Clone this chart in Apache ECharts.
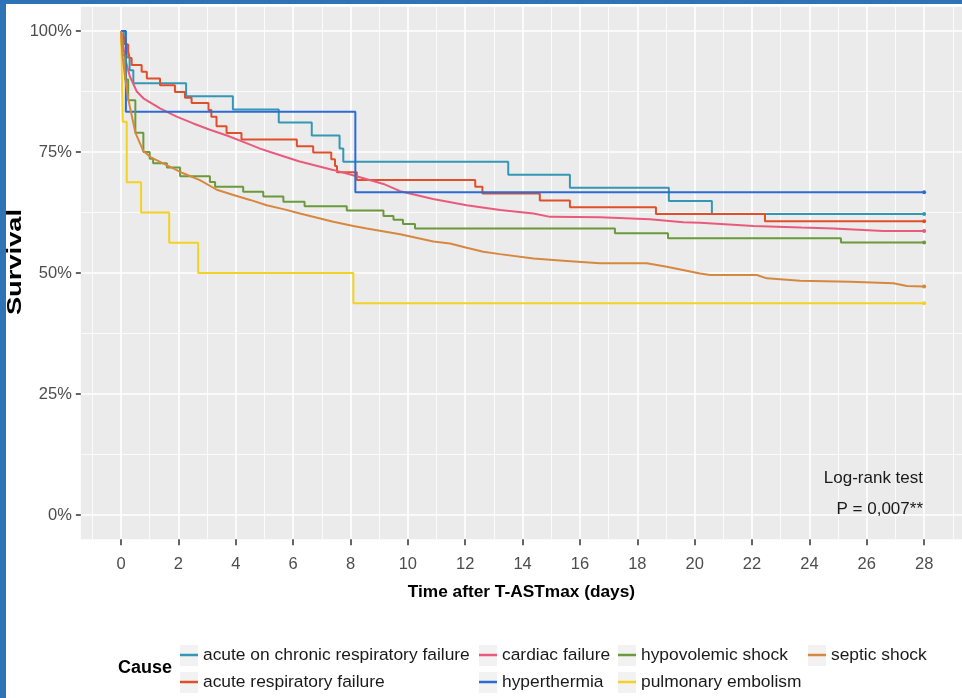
<!DOCTYPE html>
<html>
<head>
<meta charset="utf-8">
<script src="https://cdn.jsdelivr.net/npm/echarts@6/dist/echarts.min.js"></script>
<style>
html,body{margin:0;padding:0;background:#fff;}
#chart{width:962px;height:698px;}
</style>
</head>
<body>
<div id="chart"></div>
<script>
// ---- data (days, survival fraction) ----
const acuteOnChronic = [[0,1],[0.1,0.973],[0.2,0.946],[0.3,0.919],[0.43,0.892],[2.27,0.865],[3.9,0.838],[5.5,0.811],[6.65,0.784],[7.62,0.757],[7.75,0.730],[13.5,0.703],[15.65,0.676],[19.1,0.649],[20.6,0.622],[28,0.622]];
const acuteResp = [[0,1],[0.05,0.986],[0.15,0.972],[0.25,0.958],[0.3,0.944],[0.37,0.930],[0.72,0.916],[0.9,0.902],[1.36,0.888],[1.88,0.874],[2.23,0.862],[2.46,0.851],[3.05,0.837],[3.15,0.823],[3.33,0.803],[3.68,0.789],[4.2,0.776],[6.13,0.762],[6.7,0.749],[7.33,0.735],[7.46,0.721],[7.53,0.708],[8.22,0.692],[12.35,0.678],[12.6,0.664],[14.6,0.650],[15.65,0.636],[18.65,0.622],[22.45,0.607],[28,0.607]];
const cardiac = [[0,1],[0.1,0.96],[0.2,0.93],[0.31,0.906],[0.55,0.875],[0.78,0.861],[1.36,0.840],[1.94,0.823],[2.52,0.809],[3.1,0.796],[3.69,0.784],[4.26,0.771],[4.85,0.757],[5.2,0.750],[6.2,0.731],[7.39,0.713],[8.09,0.702],[9.15,0.684],[9.73,0.669],[10.88,0.653],[12.05,0.640],[13.22,0.630],[14.38,0.623],[14.96,0.616],[16.7,0.615],[18.44,0.611],[19.6,0.605],[20.19,0.604],[22.05,0.597],[23.71,0.594],[24.84,0.592],[26.58,0.587],[28,0.587]];
const hyperthermia = [[0,1],[0.17,0.833],[8.17,0.667],[28,0.667]];
const hypovolemic = [[0,1],[0.05,0.95],[0.15,0.9],[0.25,0.857],[0.5,0.79],[0.78,0.75],[1.0,0.736],[1.12,0.727],[1.6,0.718],[2.06,0.70],[3.1,0.688],[3.28,0.678],[4.26,0.668],[4.96,0.658],[5.66,0.647],[6.4,0.638],[7.87,0.629],[9.15,0.618],[9.5,0.61],[9.83,0.601],[10.25,0.592],[17.22,0.582],[19.07,0.572],[25.1,0.563],[28,0.563]];
const pulmonary = [[0,1],[0.02,0.9375],[0.04,0.875],[0.06,0.8125],[0.2,0.6875],[0.7,0.625],[1.68,0.5625],[2.69,0.5],[8.1,0.4375],[28,0.4375]];
const septic = [[0,1],[0.05,0.95],[0.15,0.9],[0.25,0.86],[0.5,0.79],[0.78,0.752],[1.01,0.740],[1.59,0.723],[2.17,0.706],[2.75,0.692],[3.34,0.672],[3.92,0.661],[4.5,0.651],[5.08,0.640],[5.66,0.632],[6.24,0.623],[7.4,0.606],[8.1,0.597],[8.57,0.592],[9.73,0.580],[10.89,0.565],[11.47,0.561],[12.05,0.552],[12.63,0.544],[13.21,0.539],[14.38,0.530],[15.54,0.525],[16.7,0.520],[18.33,0.520],[19.03,0.513],[20.19,0.499],[20.54,0.496],[22.17,0.496],[22.51,0.489],[23.67,0.484],[25.42,0.482],[26.93,0.479],[27.4,0.473],[28,0.472]];

const xTicks = [0,2,4,6,8,10,12,14,16,18,20,22,24,26,28];
const xMinor = [-1,1,3,5,7,9,11,13,15,17,19,21,23,25,27,29];
const yTicks = [0,0.25,0.5,0.75,1];
const yMinor = [0.125,0.375,0.625,0.875];

const causes = [
  {name:'acute on chronic respiratory failure', data:acuteOnChronic, color:'#3597B6', step:true},
  {name:'acute respiratory failure', data:acuteResp, color:'#E04F2B', step:true},
  {name:'cardiac failure', data:cardiac, color:'#EA5A7C', step:false},
  {name:'hyperthermia', data:hyperthermia, color:'#2B6BD2', step:true},
  {name:'hypovolemic shock', data:hypovolemic, color:'#6A9A3C', step:true},
  {name:'pulmonary embolism', data:pulmonary, color:'#F4D223', step:true},
  {name:'septic shock', data:septic, color:'#D7883F', step:false}
];

const FONT = "'Liberation Sans', Arial, sans-serif";

const chart = echarts.init(document.getElementById('chart'), null, {renderer:'canvas'});

const series = causes.map(c => ({
  name: c.name,
  type: 'line',
  xAxisIndex: 0, yAxisIndex: 0,
  step: c.step ? 'end' : false,
  symbol: 'none',
  showSymbol: true,
  animation: false,
  lineStyle: {color: c.color, width: 2},
  itemStyle: {color: c.color},
  data: c.data.map((p, i) => i === c.data.length - 1
    ? {value: p, symbol: 'circle', symbolSize: 4}
    : {value: p})
}));

const legendBase = {
  orient: 'vertical', padding: 0, itemWidth: 18, itemHeight: 2.5, itemGap: 7,
  icon: 'rect', selectedMode: false, top: 645,
  textStyle: {fontFamily: FONT, fontSize: 17.4, color: '#1a1a1a', lineHeight: 20}
};

const keyBoxes = [];
[180, 479, 618, 808].forEach((x, ci) => {
  [645, 672].forEach((y, ri) => {
    if (ci === 3 && ri === 1) return;
    keyBoxes.push({type: 'rect', left: x, top: y, shape: {width: 18, height: 21}, style: {fill: '#F2F2F2'}, z: -1, silent: true});
  });
});

chart.setOption({
  backgroundColor: '#ffffff',
  animation: false,
  grid: {left: 80.85, right: 0, top: 6.8, bottom: 158.8, show: true, backgroundColor: '#EBEBEB', borderWidth: 0, containLabel: false, outerBoundsMode: 'none'},
  xAxis: [{
    type: 'value', min: -1.4, max: 29.32,
    name: 'Time after T-ASTmax (days)', nameLocation: 'middle', nameGap: 45,
    nameTextStyle: {fontFamily: FONT, fontSize: 17.3, fontWeight: 'bold', color: '#000'},
    axisLine: {show: false, onZero: false},
    axisTick: {show: true, customValues: xTicks, length: 6, lineStyle: {color: '#333', width: 1.5}},
    axisLabel: {show: true, customValues: xTicks, margin: 17, fontFamily: FONT, fontSize: 16.5, color: '#4d4d4d'},
    splitLine: {show: true, lineStyle: {color: '#ffffff', width: 1.6}},
    z: 1
  }, {
    type: 'value', min: -1.4, max: 29.32, position: 'bottom',
    axisLine: {show: false, onZero: false},
    axisTick: {show: false, customValues: xMinor},
    axisLabel: {show: false, customValues: xMinor},
    splitLine: {show: true, lineStyle: {color: '#ffffff', width: 0.8}},
    z: 0
  }],
  yAxis: [{
    type: 'value', min: -0.05, max: 1.05,
    axisLine: {show: false, onZero: false},
    axisTick: {show: true, customValues: yTicks, length: 5, lineStyle: {color: '#333', width: 1.5}},
    axisLabel: {show: true, customValues: yTicks, margin: 9, fontFamily: FONT, fontSize: 16.5, color: '#4d4d4d',
      formatter: v => Math.round(v * 100) + '%'},
    splitLine: {show: true, lineStyle: {color: '#ffffff', width: 1.6}},
    z: 1
  }, {
    type: 'value', min: -0.05, max: 1.05, position: 'left',
    axisLine: {show: false, onZero: false},
    axisTick: {show: false, customValues: yMinor},
    axisLabel: {show: false, customValues: yMinor},
    splitLine: {show: true, lineStyle: {color: '#ffffff', width: 0.8}},
    z: 0
  }],
  legend: [
    Object.assign({}, legendBase, {left: 180, data: ['acute on chronic respiratory failure', 'acute respiratory failure']}),
    Object.assign({}, legendBase, {left: 479, data: ['cardiac failure', 'hyperthermia']}),
    Object.assign({}, legendBase, {left: 618, data: ['hypovolemic shock', 'pulmonary embolism']}),
    Object.assign({}, legendBase, {left: 808, data: ['septic shock']})
  ],
  graphic: keyBoxes.concat([
    {type: 'rect', left: 0, top: 0, shape: {width: 6, height: 698}, style: {fill: '#2E73B5'}, z: 10},
    {type: 'rect', left: 0, top: 0, shape: {width: 962, height: 4}, style: {fill: '#2E73B5'}, z: 10},
    {type: 'text', x: 15.5, y: 262, rotation: Math.PI / 2, scaleX: 1.4, scaleY: 1,
      style: {text: 'Survival', fontFamily: FONT, fontSize: 19.5, fontWeight: 'bold', fill: '#000', textAlign: 'center', textVerticalAlign: 'middle'}, z: 10},
    {type: 'text', x: 923, y: 478, style: {text: 'Log-rank test', fontFamily: FONT, fontSize: 17, fill: '#1a1a1a', textAlign: 'right', textVerticalAlign: 'middle'}, z: 10},
    {type: 'text', x: 923, y: 509, style: {text: 'P = 0,007**', fontFamily: FONT, fontSize: 17, fill: '#1a1a1a', textAlign: 'right', textVerticalAlign: 'middle'}, z: 10},
    {type: 'text', x: 118, y: 668, style: {text: 'Cause', fontFamily: FONT, fontSize: 18, fontWeight: 'bold', fill: '#000', textAlign: 'left', textVerticalAlign: 'middle'}, z: 10}
  ]),
  series: series
});
</script>
</body>
</html>
